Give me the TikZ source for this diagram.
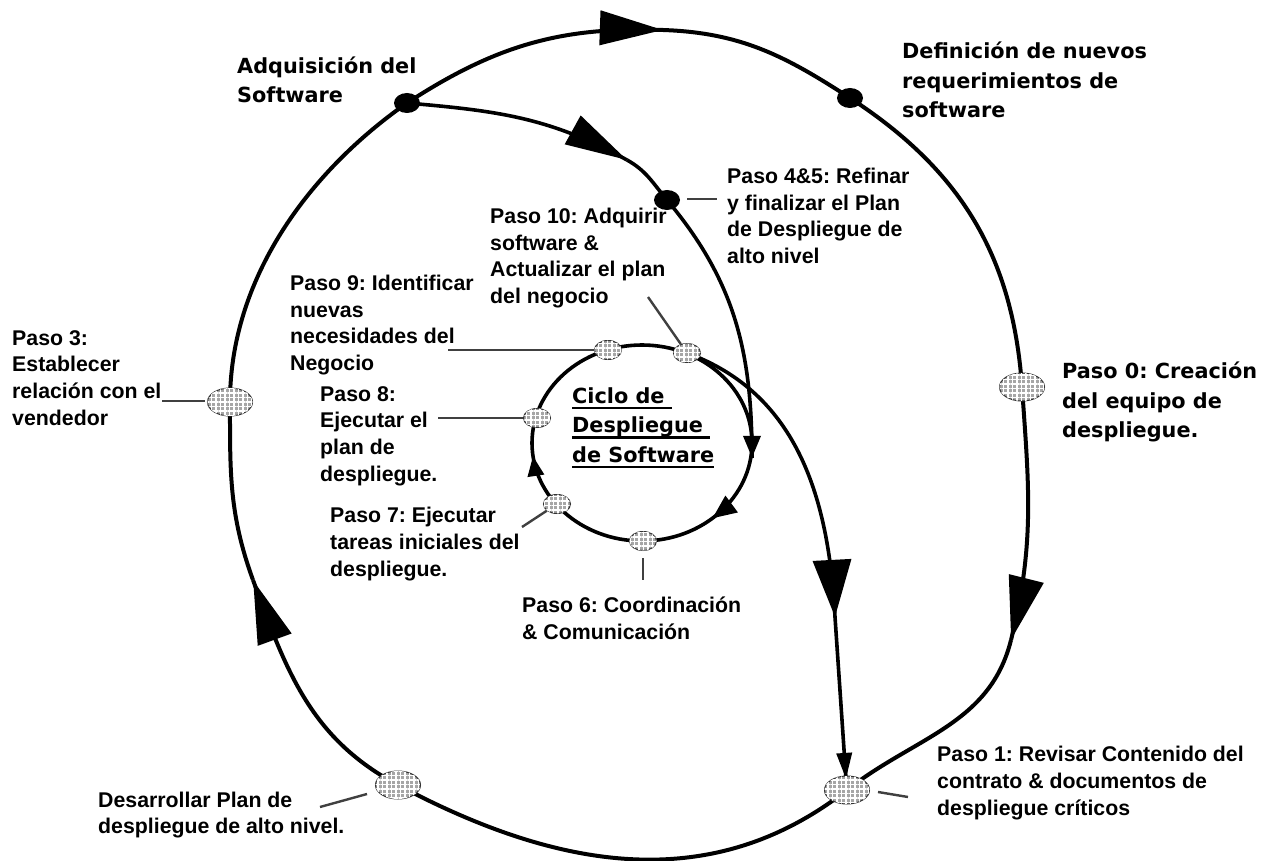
\documentclass[tikz,border=0pt]{standalone}
\usepackage{fontspec}
\setmainfont{Liberation Sans}
\newfontfamily\dvs{DejaVu Sans}
\usetikzlibrary{arrows.meta,shapes.geometric,patterns.meta,decorations.markings}
\pgfdeclarelayer{bg}
\pgfsetlayers{bg,main}
\frenchspacing
% underlined line for the centre title
\newcommand\undl[1]{\setbox0\hbox{#1}\rlap{\rule[-6pt]{\wd0}{2.6pt}}\box0}

\begin{document}
\begin{tikzpicture}[x=1pt,y=1pt,
  outer/.style={line width=4pt,black},
  innerln/.style={line width=3.6pt,black},
  leader/.style={line width=2.4pt,black!75},
  bigoval/.style={ellipse,minimum width=45pt,minimum height=28pt,inner sep=0pt,
    fill=gray!70,draw=gray!40!black,line width=1pt,
    postaction={pattern={Hatch[angle=0,distance=4.5pt,line width=1.3pt]},pattern color=white}},
  smalloval/.style={bigoval,minimum width=27pt,minimum height=19pt},
  blackdot/.style={ellipse,minimum width=26pt,minimum height=20pt,inner sep=0pt,fill=black},
  lbl/.style={anchor=west,align=left,inner sep=0pt,
    font=\fontsize{21.3}{26.7}\selectfont\bfseries},
  vlbl/.style={anchor=west,align=left,inner sep=0pt,
    font=\dvs\fontsize{20.8}{29.5}\selectfont\bfseries},
  % arrow head placed on the end point of a path without shortening it
  tipend/.style={postaction={decorate},decoration={markings,
    mark=at position 0.9995 with {\arrow{#1}}}}
]
\useasboundingbox (0,0) rectangle (1274,-861);
\begin{pgfonlayer}{bg}
  \fill[white] (0,0) rectangle (1274,-861);
\end{pgfonlayer}

% ---- points on the loops ----
\node[blackdot] (A) at (407,-103) {};
\node[blackdot] (D) at (850,-98) {};
\node[blackdot] (Q) at (667,-200) {};
\node[bigoval] (P0) at (1022,-387) {};
\node[bigoval] (P1) at (847,-790) {};
\node[bigoval] (PD) at (398,-785) {};
\node[bigoval] (P3) at (230,-402) {};
\node[smalloval] (P9) at (608,-350) {};
\node[smalloval] (P10) at (687,-353) {};
\node[smalloval] (P8) at (537,-418) {};
\node[smalloval] (P7) at (557,-504) {};
\node[smalloval] (P6) at (643,-541) {};

\coordinate (T1) at (663,-30);
\coordinate (T2) at (1011,-640);
\coordinate (T3) at (253,-580);
\coordinate (T4) at (627,-160);
\coordinate (T5) at (752,-458);
\coordinate (T6) at (835,-617);
\coordinate (T7) at (846,-779);
\coordinate (ci) at (642,-443);

\begin{pgfonlayer}{bg}
  % outer cycle, clockwise
  \draw[outer,tipend={Triangle[length=63pt,width=34pt]}]
     (A.center) to[out=33,in=178] (T1);
  \draw[outer,tipend={Triangle[length=63pt,width=35pt]}]
     (T1) to[out=-2,in=147] (D.center)
     to[out=-33,in=94] (P0.center) to[out=-86,in=76] (T2);
  \draw[outer,tipend={Triangle[length=63pt,width=35pt]}]
     (T2) to[out=-104,in=38] (P1.center)
     to[out=218,in=-28] (PD.center) to[out=152,in=-70] (T3);
  \draw[outer] (T3) to[out=110,in=-90] (P3.center)
     to[out=90,in=215,looseness=0.9] (A.center);

  % branch from the acquisition point into the inner cycle
  \draw[innerln,tipend={Triangle[length=62pt,width=32pt]}]
     (A.center) to[out=-5,in=151] (T4);
  \draw[innerln,tipend={Triangle[length=22pt,width=17pt]}]
     (T4) to[out=-29,in=130] (Q.center) to[out=-50,in=90] (T5);

  % inner cycle, clockwise
  \draw[innerln,postaction={decorate},decoration={markings,
      mark=at position 0.52 with {\arrowreversed{Triangle[length=20pt,width=16pt]}},
      mark=at position 0.865 with {\arrowreversed{Triangle[length=24pt,width=20pt]}}}]
    (ci) ellipse [x radius=110, y radius=98];

  % branch from step 10 back to step 1
  \draw[innerln,tipend={Triangle[length=57pt,width=38pt]}]
     (P10.center) to[out=-20,in=93] (T6);
  \draw[innerln,tipend={Triangle[length=26pt,width=15pt]}] (T6) -- (T7);
\end{pgfonlayer}

% ---- labels ----
\node[vlbl] (adq) at (237,-80) {Adquisición del\\Software};
\node[vlbl] (def) at (902,-80) {Definición de nuevos\\requerimientos de\\software};
\node[lbl] (l45) at (727,-216) {Paso 4\&5: Refinar\\y finalizar el Plan\\de Despliegue de\\alto nivel};
\node[lbl] (l10) at (490,-258) {Paso 10: Adquirir\\software \&\\Actualizar el plan\\del negocio};
\node[lbl] (l9) at (290,-325) {Paso 9: Identificar\\nuevas\\necesidades del\\Negocio};
\node[lbl] (l3) at (12,-378) {Paso 3:\\Establecer\\relación con el\\vendedor};
\node[lbl] (l8) at (320,-436) {Paso 8:\\Ejecutar el\\plan de\\despliegue.};
\node[vlbl] (l0) at (1062,-402) {Paso 0: Creación\\del equipo de\\despliegue.};
\node[vlbl] (ciclo) at (572,-428) {\undl{Ciclo de\ }\\\undl{Despliegue\ }\\\undl{de Software}};
\node[lbl] (l7) at (330,-544) {Paso 7: Ejecutar\\tareas iniciales del\\despliegue.};
\node[lbl] (l6) at (522,-618) {Paso 6: Coordinación\\\& Comunicación};
\node[lbl] (ld) at (98,-815) {Desarrollar Plan de\\despliegue de alto nivel.};
\node[lbl] (l1) at (937,-783) {Paso 1: Revisar Contenido del\\contrato \& documentos de\\despliegue críticos};

% ---- leader lines ----
\coordinate (k3a) at (162,-401); \coordinate (k3b) at (205,-401);
\coordinate (k9) at (448,-350);
\coordinate (k8) at (438,-418);
\coordinate (k7) at (522,-527);
\coordinate (k6a) at (643,-558); \coordinate (k6b) at (643,-580);
\coordinate (k10) at (648,-297);
\coordinate (k45a) at (687,-199); \coordinate (k45b) at (717,-199);
\coordinate (k1a) at (878,-792); \coordinate (k1b) at (908,-797);
\coordinate (kda) at (320,-807); \coordinate (kdb) at (367,-794);
\begin{pgfonlayer}{bg}
  \draw[leader] (k3a) -- (k3b);
  \draw[leader] (k9) -- (P9);
  \draw[leader] (k8) -- (P8);
  \draw[leader] (k7) -- (P7);
  \draw[leader] (k6a) -- (k6b);
  \draw[leader] (k10) -- (P10);
  \draw[leader] (k45a) -- (k45b);
  \draw[leader] (k1a) -- (k1b);
  \draw[leader] (kda) -- (kdb);
\end{pgfonlayer}
\end{tikzpicture}
\end{document}
